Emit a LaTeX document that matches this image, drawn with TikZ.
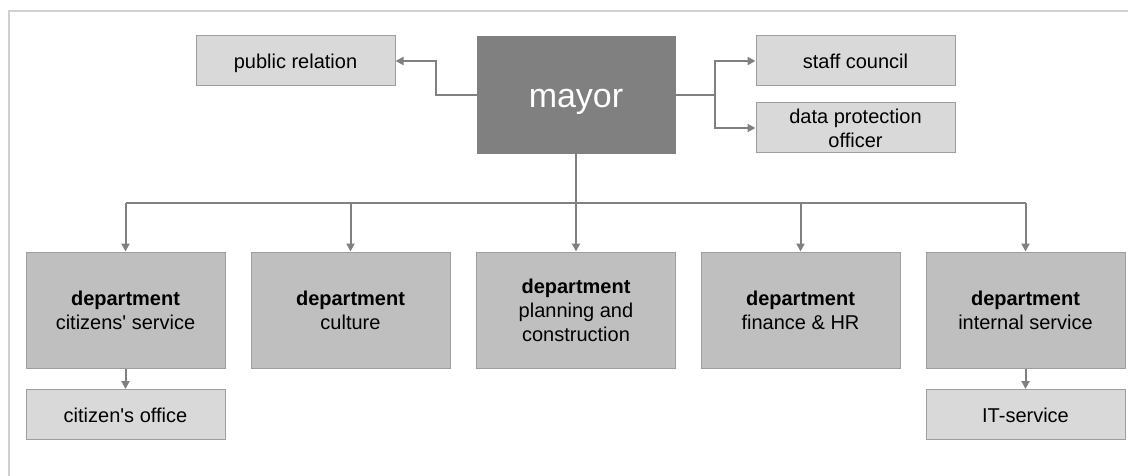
\documentclass[tikz,border=0pt]{standalone}
\usepackage{fontspec}
\setmainfont{Liberation Sans}[Ligatures=TeXOff]
\usetikzlibrary{arrows.meta}
\definecolor{frameline}{HTML}{D0D0D0}
\definecolor{boxline}{HTML}{9E9E9E}
\definecolor{lightfill}{HTML}{D9D9D9}
\definecolor{deptfill}{HTML}{BFBFBF}
\definecolor{mayorfill}{HTML}{808080}
\definecolor{linkcol}{HTML}{808080}
\tikzset{
  unitbox/.style={draw=boxline, line width=1pt, inner sep=0pt, align=center,
    minimum width=199pt, font=\fontsize{20}{24}\selectfont},
  smallbox/.style={unitbox, fill=lightfill, minimum height=50pt},
  oneline/.style={text height=16pt, text depth=0pt},
  deptbox/.style={unitbox, fill=deptfill, minimum height=116pt},
  headbox/.style={draw=mayorfill, fill=mayorfill, inner sep=0pt,
    minimum width=198pt, minimum height=117pt, text=white,
    text height=27pt, text depth=0pt,
    font=\fontsize{34}{40}\selectfont},
  link/.style={draw=linkcol, line width=2pt},
  linkarrow/.style={link, -{Triangle[length=8pt,width=8pt]}},
}
\begin{document}
\begin{tikzpicture}[x=1pt,y=-1pt]
\useasboundingbox (0,0) rectangle (1128,476);
% page frame (top and left edges only)
\draw[frameline, line width=1.5pt] (9,476) -- (9,11) -- (1128,11);

% top level
\node[headbox] (mayor) at (576,94.5) {mayor};
\node[smallbox, oneline] (pr) at (295.5,61) {public relation};
\node[smallbox, oneline] (staff) at (855.5,61) {staff council};
\node[smallbox] (dpo) at (855.5,128) {data protection\\officer};

% departments
\node[deptbox] (d1) at (125.5,310) {\textbf{department}\\citizens' service};
\node[deptbox] (d2) at (350.5,310) {\textbf{department}\\culture};
\node[deptbox] (d3) at (576,310) {\textbf{department}\\planning and\\construction};
\node[deptbox] (d4) at (800.5,310) {\textbf{department}\\finance \& HR};
\node[deptbox] (d5) at (1025.5,310) {\textbf{department}\\internal service};

% sub units
\node[smallbox, oneline] (office) at (125.5,414.5) {citizen's office};
\node[smallbox, oneline] (it) at (1025.5,414.5) {IT-service};

% staff connectors
\coordinate (leftbend) at (436,95);
\coordinate (fork) at (715,95);
\draw[linkarrow] (mayor.west |- leftbend) -- (leftbend) |- (pr.east);
\draw[link] (mayor.east |- fork) -- (fork);
\draw[linkarrow] (fork) |- (staff.west);
\draw[linkarrow] (fork) |- (dpo.west);

% department bus
\coordinate (bus) at (576,203);
\draw[link] (d1.north |- bus) -- (d5.north |- bus);
\draw[linkarrow] (mayor.south) -- (d3.north);
\foreach \d in {d1,d2,d4,d5}
  \draw[linkarrow] (\d.north |- bus) -- (\d.north);

% sub unit connectors
\draw[linkarrow] (d1.south) -- (office.north);
\draw[linkarrow] (d5.south) -- (it.north);
\end{tikzpicture}
\end{document}
